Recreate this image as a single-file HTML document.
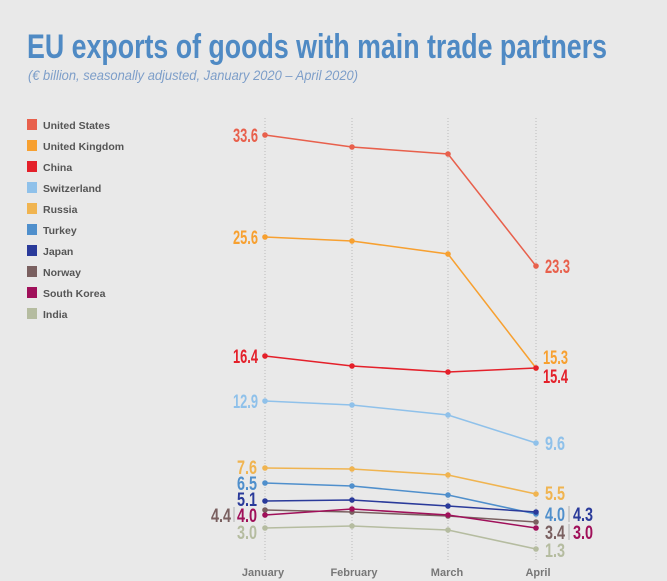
<!DOCTYPE html>
<html><head><meta charset="utf-8"><style>
body{margin:0;background:#e9e9e9;}
svg{display:block;}
text{font-family:"Liberation Sans Narrow","Liberation Sans",sans-serif;}
</style></head><body>
<svg width="667" height="581" viewBox="0 0 667 581" xmlns="http://www.w3.org/2000/svg">
<rect width="667" height="581" fill="#e9e9e9"/>
<text x="27" y="58" font-size="34" font-weight="bold" fill="#4f8ac4" textLength="580" lengthAdjust="spacingAndGlyphs">EU exports of goods with main trade partners</text>
<text x="28" y="80" font-size="14" font-style="italic" fill="#7d9ec9" textLength="330" lengthAdjust="spacingAndGlyphs">(€ billion, seasonally adjusted, January 2020 – April 2020)</text>
<g stroke="#bbb" stroke-dasharray="1,2" stroke-width="1">
<line x1="265" y1="118" x2="265" y2="560"/><line x1="352" y1="118" x2="352" y2="560"/><line x1="448" y1="118" x2="448" y2="560"/><line x1="536" y1="118" x2="536" y2="560"/>
</g>
<g font-size="10.5" font-weight="bold" fill="#555">
<rect x="27" y="119" width="10" height="11" fill="#e8604c"/><text x="43" y="129">United States</text>
<rect x="27" y="140" width="10" height="11" fill="#f7a030"/><text x="43" y="150">United Kingdom</text>
<rect x="27" y="161" width="10" height="11" fill="#e4202a"/><text x="43" y="171">China</text>
<rect x="27" y="182" width="10" height="11" fill="#8fc1ea"/><text x="43" y="192">Switzerland</text>
<rect x="27" y="203" width="10" height="11" fill="#f0b450"/><text x="43" y="213">Russia</text>
<rect x="27" y="224" width="10" height="11" fill="#4f8fcc"/><text x="43" y="234">Turkey</text>
<rect x="27" y="245" width="10" height="11" fill="#2a3a9a"/><text x="43" y="255">Japan</text>
<rect x="27" y="266" width="10" height="11" fill="#7a6060"/><text x="43" y="276">Norway</text>
<rect x="27" y="287" width="10" height="11" fill="#a0105a"/><text x="43" y="297">South Korea</text>
<rect x="27" y="308" width="10" height="11" fill="#b5bca0"/><text x="43" y="318">India</text>
</g>
<g fill="none" stroke-width="1.5">
<polyline stroke="#e8604c" points="265,135 352,147 448,154 536,266"/>
<polyline stroke="#f7a030" points="265,237 352,241 448,254 536,368"/>
<polyline stroke="#e4202a" points="265,356 352,366 448,372 536,368"/>
<polyline stroke="#8fc1ea" points="265,401 352,405 448,415 536,443"/>
<polyline stroke="#f0b450" points="265,468 352,469 448,475 536,494"/>
<polyline stroke="#4f8fcc" points="265,483 352,486 448,495 536,514"/>
<polyline stroke="#2a3a9a" points="265,501 352,500 448,506 536,512"/>
<polyline stroke="#7a6060" points="265,510 352,512 448,516 536,522"/>
<polyline stroke="#a0105a" points="265,515 352,509 448,515 536,528"/>
<polyline stroke="#b5bca0" points="265,528 352,526 448,530 536,549"/>
</g>
<g>
<g fill="#e8604c"><circle cx="265" cy="135" r="2.8"/><circle cx="352" cy="147" r="2.8"/><circle cx="448" cy="154" r="2.8"/><circle cx="536" cy="266" r="2.8"/></g>
<g fill="#f7a030"><circle cx="265" cy="237" r="2.8"/><circle cx="352" cy="241" r="2.8"/><circle cx="448" cy="254" r="2.8"/><circle cx="536" cy="368" r="2.8"/></g>
<g fill="#e4202a"><circle cx="265" cy="356" r="2.8"/><circle cx="352" cy="366" r="2.8"/><circle cx="448" cy="372" r="2.8"/><circle cx="536" cy="368" r="2.8"/></g>
<g fill="#8fc1ea"><circle cx="265" cy="401" r="2.8"/><circle cx="352" cy="405" r="2.8"/><circle cx="448" cy="415" r="2.8"/><circle cx="536" cy="443" r="2.8"/></g>
<g fill="#f0b450"><circle cx="265" cy="468" r="2.8"/><circle cx="352" cy="469" r="2.8"/><circle cx="448" cy="475" r="2.8"/><circle cx="536" cy="494" r="2.8"/></g>
<g fill="#4f8fcc"><circle cx="265" cy="483" r="2.8"/><circle cx="352" cy="486" r="2.8"/><circle cx="448" cy="495" r="2.8"/><circle cx="536" cy="514" r="2.8"/></g>
<g fill="#2a3a9a"><circle cx="265" cy="501" r="2.8"/><circle cx="352" cy="500" r="2.8"/><circle cx="448" cy="506" r="2.8"/><circle cx="536" cy="512" r="2.8"/></g>
<g fill="#7a6060"><circle cx="265" cy="510" r="2.8"/><circle cx="352" cy="512" r="2.8"/><circle cx="448" cy="516" r="2.8"/><circle cx="536" cy="522" r="2.8"/></g>
<g fill="#a0105a"><circle cx="265" cy="515" r="2.8"/><circle cx="352" cy="509" r="2.8"/><circle cx="448" cy="515" r="2.8"/><circle cx="536" cy="528" r="2.8"/></g>
<g fill="#b5bca0"><circle cx="265" cy="528" r="2.8"/><circle cx="352" cy="526" r="2.8"/><circle cx="448" cy="530" r="2.8"/><circle cx="536" cy="549" r="2.8"/></g>
</g>
<g font-size="19" font-weight="bold">
<text x="233" y="142" fill="#e8604c" textLength="25" lengthAdjust="spacingAndGlyphs">33.6</text>
<text x="233" y="244" fill="#f7a030" textLength="25" lengthAdjust="spacingAndGlyphs">25.6</text>
<text x="233" y="363" fill="#e4202a" textLength="25" lengthAdjust="spacingAndGlyphs">16.4</text>
<text x="233" y="408" fill="#8fc1ea" textLength="25" lengthAdjust="spacingAndGlyphs">12.9</text>
<text x="237" y="474" fill="#f0b450" textLength="20" lengthAdjust="spacingAndGlyphs">7.6</text>
<text x="237" y="490" fill="#4f8fcc" textLength="20" lengthAdjust="spacingAndGlyphs">6.5</text>
<text x="237" y="506" fill="#2a3a9a" textLength="20" lengthAdjust="spacingAndGlyphs">5.1</text>
<text x="237" y="522" fill="#a0105a" textLength="20" lengthAdjust="spacingAndGlyphs">4.0</text>
<text x="211" y="522" fill="#7a6060" textLength="20" lengthAdjust="spacingAndGlyphs">4.4</text>
<text x="237" y="539" fill="#b5bca0" textLength="20" lengthAdjust="spacingAndGlyphs">3.0</text>
<text x="545" y="273" fill="#e8604c" textLength="25" lengthAdjust="spacingAndGlyphs">23.3</text>
<text x="543" y="364" fill="#f7a030" textLength="25" lengthAdjust="spacingAndGlyphs">15.3</text>
<text x="543" y="383" fill="#e4202a" textLength="25" lengthAdjust="spacingAndGlyphs">15.4</text>
<text x="545" y="450" fill="#8fc1ea" textLength="20" lengthAdjust="spacingAndGlyphs">9.6</text>
<text x="545" y="500" fill="#f0b450" textLength="20" lengthAdjust="spacingAndGlyphs">5.5</text>
<text x="545" y="521" fill="#4f8fcc" textLength="20" lengthAdjust="spacingAndGlyphs">4.0</text>
<text x="573" y="521" fill="#2a3a9a" textLength="20" lengthAdjust="spacingAndGlyphs">4.3</text>
<text x="545" y="539" fill="#7a6060" textLength="20" lengthAdjust="spacingAndGlyphs">3.4</text>
<text x="573" y="539" fill="#a0105a" textLength="20" lengthAdjust="spacingAndGlyphs">3.0</text>
<text x="545" y="557" fill="#b5bca0" textLength="20" lengthAdjust="spacingAndGlyphs">1.3</text>
</g>
<line x1="234" y1="507" x2="234" y2="522" stroke="#999" stroke-width="0.7"/>
<line x1="569" y1="506" x2="569" y2="522" stroke="#999" stroke-width="0.7"/>
<line x1="569" y1="524" x2="569" y2="540" stroke="#999" stroke-width="0.7"/>
<g font-size="11" font-weight="bold" fill="#777" text-anchor="middle">
<text x="263" y="576">January</text>
<text x="354" y="576">February</text>
<text x="447" y="576">March</text>
<text x="538" y="576">April</text>
</g>
</svg>
</body></html>
